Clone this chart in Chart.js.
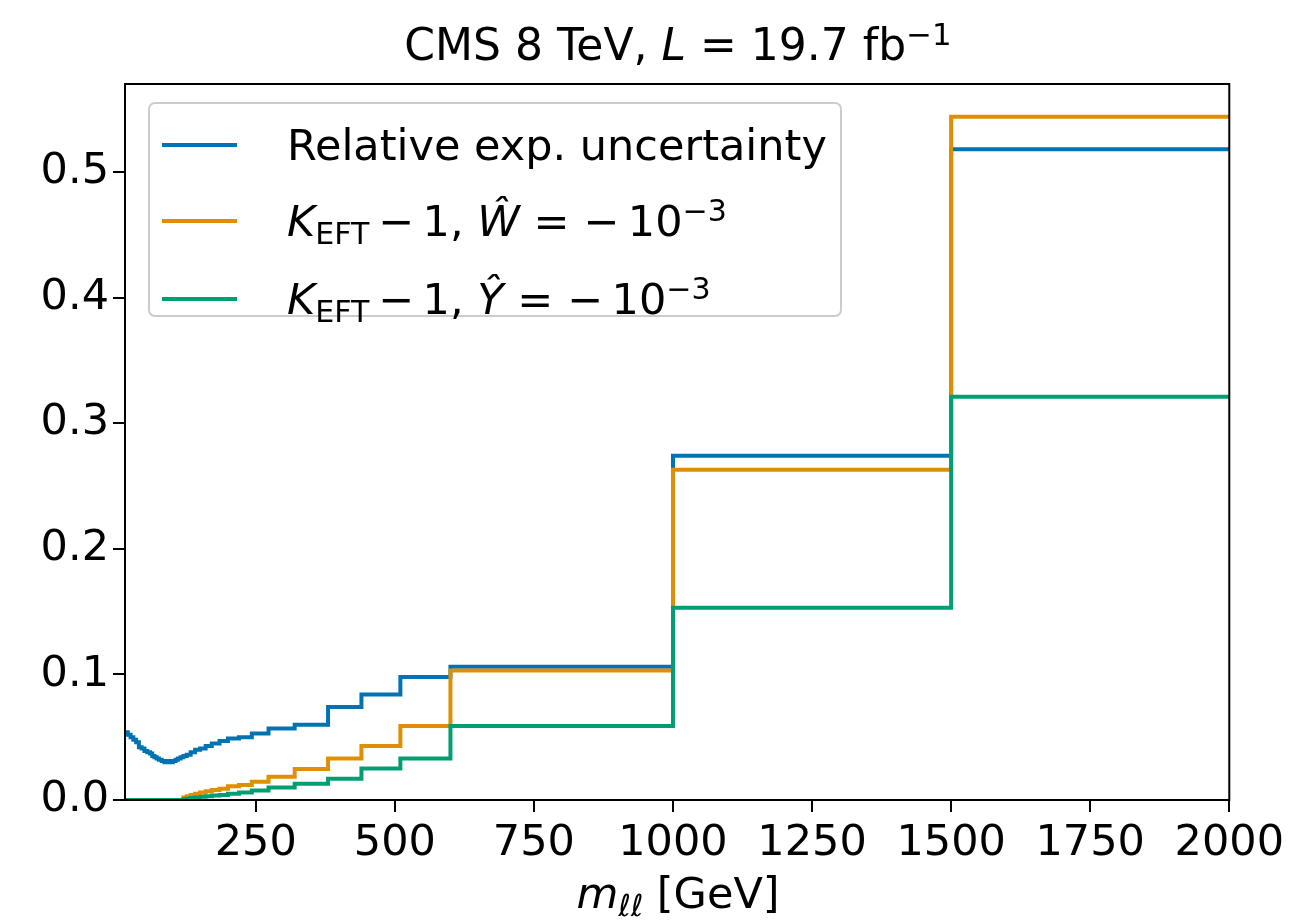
<!DOCTYPE html>
<html>
<head>
<meta charset="utf-8">
<script src="https://cdn.jsdelivr.net/npm/chart.js@4"></script>
<style>
  html, body { margin:0; padding:0; background:#fff; }
  #wrap { position:relative; width:1290px; height:920px; font-family:"DejaVu Sans", sans-serif; color:#000; }
  #c { position:absolute; left:0; top:0; }
  .ov { position:absolute; white-space:nowrap; }
  .sup { font-size:70%; position:relative; top:-0.5em; }
  .sub { font-size:70%; position:relative; top:0.28em; }
  #title { left:125px; width:1106px; top:18px; text-align:center; font-size:44px; line-height:54px; }
  #xlabel { left:125px; width:1106px; top:866px; text-align:center; font-size:43px; line-height:54px; }
  #legend { left:148px; top:102px; width:690px; height:211px; border:2px solid #cccccc; border-radius:7px; background:rgba(255,255,255,0.8); }
  .row { position:absolute; left:0; height:60px; }
  .swatch { position:absolute; left:12px; width:75px; height:4px; top:28px; }
  .lbl { position:absolute; left:137px; top:0; font-size:43px; line-height:60px; }
</style>
</head>
<body>
<div id="wrap">
  <canvas id="c" width="1290" height="920"></canvas>
  <div id="title" class="ov">CMS 8 TeV, <i>L</i> = 19.7 fb<span class="sup">−1</span></div>
  <div id="xlabel" class="ov"><i>m</i><span class="sub"><i>ℓℓ</i></span> [GeV]</div>
  <div id="legend" class="ov"></div>
</div>
<script>
// Bin edges of m_ll [GeV]
const binEdges = [15,20,25,30,35,40,45,50,55,60,64,68,72,76,81,86,91,96,101,106,110,115,120,126,133,141,150,160,171,185,200,220,243,273,320,380,440,510,600,1000,1500,2000];

// Relative experimental uncertainty per bin
const relExpUnc = [0.054,0.052,0.050,0.048,0.046,0.042,0.041,0.039,0.038,0.037,
                   0.035,0.034,0.033,0.032,0.031,0.030,0.031,0.030,0.031,0.032,
                   0.033,0.034,0.035,0.036,0.038,0.040,0.041,0.043,0.045,0.047,
                   0.049,0.050,0.053,0.057,0.060,0.074,0.084,0.098,0.106,0.274,
                   0.518];

// K_EFT - 1 for W-hat = -1e-3
const kW = [0,0,0,0,0,0,0,0,0,0,0,0,0,0,0,0,0,0,0,0,0,0,
            0.002,0.003,0.004,0.005,0.006,0.007,0.008,0.009,0.011,0.012,
            0.0145,0.0185,0.0246,0.033,0.043,0.059,0.103,0.263,0.544];

// K_EFT - 1 for Y-hat = -1e-3
const kY = [0,0,0,0,0,0,0,0,0,0,0,0,0,0,0,0,0,0,0,0,0,0,
            0.0005,0.001,0.0015,0.002,0.0025,0.003,0.0035,0.004,0.005,0.006,
            0.0075,0.010,0.013,0.017,0.025,0.033,0.059,0.153,0.321];

const xTicks = [250,500,750,1000,1250,1500,1750,2000];
const yTicks = [0.0,0.1,0.2,0.3,0.4,0.5];

const seriesNames = [
  'Relative exp. uncertainty',
  '<i>K</i><span class="sub">EFT</span>\u2009−\u20091, <i>Ŵ</i> = −\u200910<span class="sup">−3</span>',
  '<i>K</i><span class="sub">EFT</span>\u2009−\u20091, <i>Ŷ</i> = −\u200910<span class="sup">−3</span>'
];
const colors = ['#0173B2', '#DE8F05', '#029E73'];

function stepPoints(vals) {
  return binEdges.map((e, i) => ({ x: e, y: i < vals.length ? vals[i] : vals[vals.length - 1] }));
}

// legend (HTML, for math formatting)
const leg = document.getElementById('legend');
const rowTops = [11, 87, 165];
seriesNames.forEach((n, i) => {
  const r = document.createElement('div');
  r.className = 'row';
  r.style.top = rowTops[i] + 'px';
  r.innerHTML = '<div class="swatch" style="background:' + colors[i] + '"></div><div class="lbl">' + n + '</div>';
  leg.appendChild(r);
});

const framePlugin = {
  id: 'frame',
  afterDatasetsDraw(chart) {
    const a = chart.chartArea, ctx = chart.ctx;
    ctx.save();
    ctx.strokeStyle = '#000';
    ctx.lineWidth = 2;
    ctx.strokeRect(a.left, a.top, a.right - a.left, a.bottom - a.top);
    ctx.restore();
  }
};

Chart.defaults.font.family = '"DejaVu Sans", sans-serif';
Chart.defaults.color = '#000';

new Chart(document.getElementById('c'), {
  type: 'line',
  data: {
    datasets: [
      { label: 'Relative exp. uncertainty', data: stepPoints(relExpUnc), borderColor: colors[0], order: 3 },
      { label: 'K_EFT - 1, W = -1e-3', data: stepPoints(kW), borderColor: colors[1], order: 2 },
      { label: 'K_EFT - 1, Y = -1e-3', data: stepPoints(kY), borderColor: colors[2], order: 1 }
    ].map(d => Object.assign(d, { stepped: true, pointRadius: 0, borderWidth: 4, fill: false, tension: 0 }))
  },
  options: {
    responsive: false,
    animation: false,
    events: [],
    layout: { padding: { left: 0, right: 59, top: 84, bottom: 0 } },
    plugins: { legend: { display: false }, tooltip: { enabled: false }, title: { display: false } },
    scales: {
      x: {
        type: 'linear', min: 15, max: 2000,
        afterBuildTicks: s => { s.ticks = xTicks.map(v => ({ value: v })); },
        afterFit: s => { s.height = 120; },
        border: { display: false },
        grid: { drawOnChartArea: false, drawTicks: true, tickLength: 12, color: '#000', lineWidth: 2 },
        ticks: { font: { size: 43 }, padding: 6, maxRotation: 0, autoSkip: false, callback: v => String(v) }
      },
      y: {
        type: 'linear', min: 0, max: 0.57,
        afterBuildTicks: s => { s.ticks = yTicks.map(v => ({ value: v })); },
        afterFit: s => { s.width = 125; },
        border: { display: false },
        grid: { drawOnChartArea: false, drawTicks: true, tickLength: 12, color: '#000', lineWidth: 2 },
        ticks: { font: { size: 43 }, padding: 4, callback: v => Number(v).toFixed(1) }
      }
    }
  },
  plugins: [framePlugin]
});
</script>
</body>
</html>
